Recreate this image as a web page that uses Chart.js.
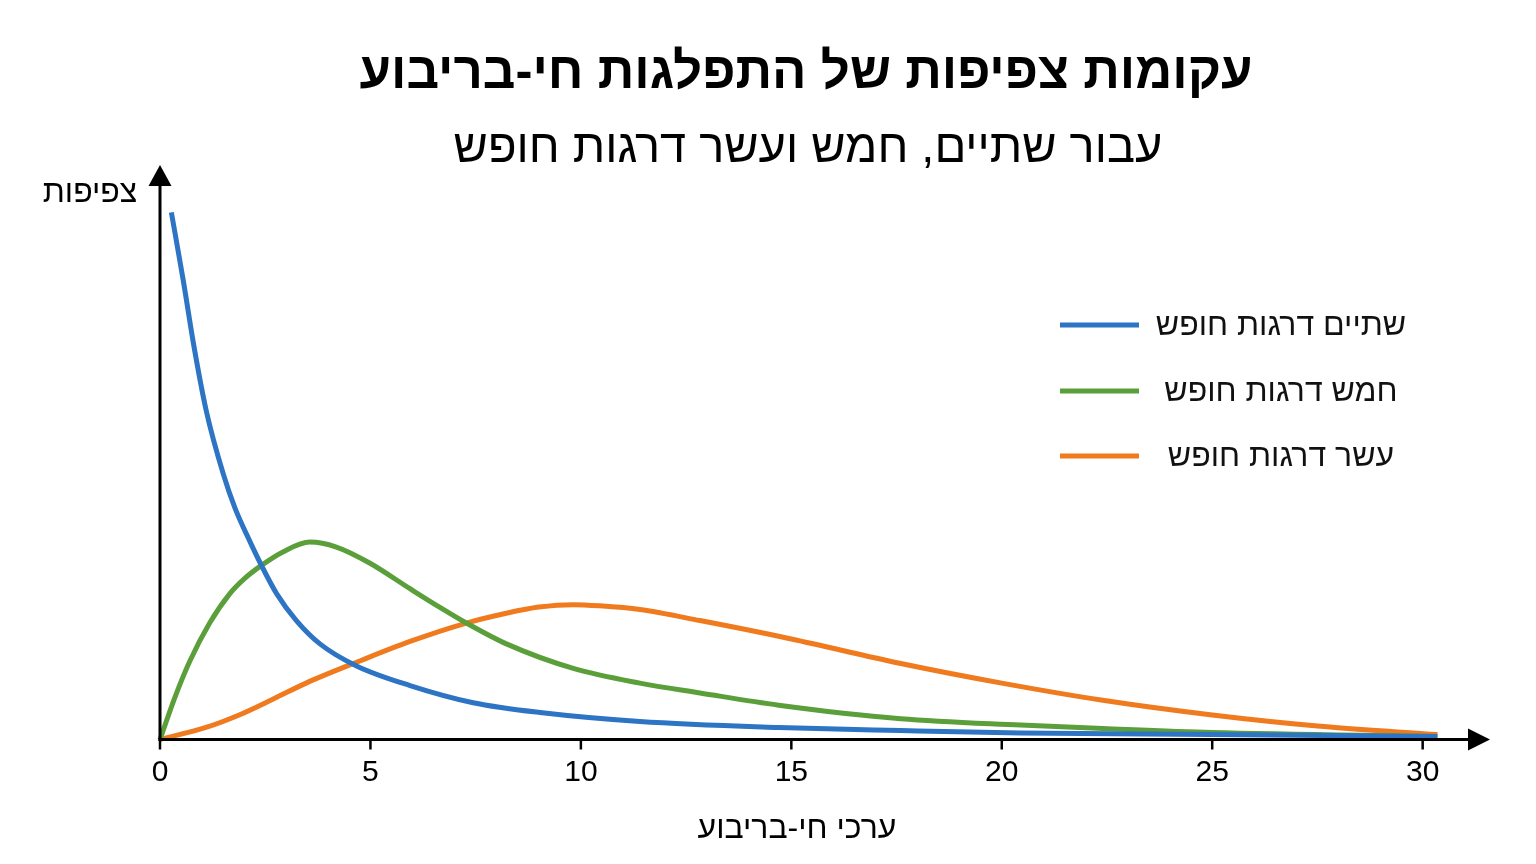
<!DOCTYPE html>
<html lang="he">
<head>
<meta charset="utf-8">
<script src="https://cdn.jsdelivr.net/npm/chart.js@4/dist/chart.umd.min.js"></script>
<style>
html,body{margin:0;padding:0;background:#fff;width:1536px;height:864px;overflow:hidden}
#wrap{position:relative;width:1536px;height:864px}
canvas{display:block}
</style>
</head>
<body>
<div id="wrap"><canvas id="c" width="1536" height="864"></canvas></div>
<script>
// ---- Text ----
const titleText = 'עקומות צפיפות של התפלגות חי-בריבוע';
const subtitleText = 'עבור שתיים, חמש ועשר דרגות חופש';
const xAxisTitle = 'ערכי חי-בריבוע';
const yAxisTitle = 'צפיפות';
const seriesNames = ['שתיים דרגות חופש', 'חמש דרגות חופש', 'עשר דרגות חופש'];
const xTicks = [0, 5, 10, 15, 20, 25, 30];

// ---- Series ----
const df2X = [0.27, 0.55, 0.80, 1.10, 1.50, 1.78, 2.13, 2.41, 2.77, 3.24, 3.80, 4.67, 5.94, 7.44, 9.03, 11.4, 14.7, 17.6, 20.45, 25, 30.35];
const df2Y = [0.430, 0.375, 0.322, 0.268, 0.217, 0.189, 0.162, 0.142, 0.119, 0.097, 0.078, 0.060, 0.044, 0.030, 0.022, 0.0147, 0.0098, 0.0073, 0.0053, 0.0041, 0.0025];

const df5X = [0, 0.35, 0.71, 1.18, 1.66, 2.0, 2.41, 2.92, 3.56, 4.19, 4.98, 5.94, 6.64, 7.28, 8.23, 9.82, 11.4, 12.83, 14.7, 17.6, 20.45, 22.4, 25, 30.35];
const df5Y = [0, 0.034, 0.064, 0.095, 0.119, 0.131, 0.142, 0.153, 0.161, 0.157, 0.144, 0.123, 0.108, 0.095, 0.078, 0.058, 0.046, 0.038, 0.028, 0.017, 0.0118, 0.009, 0.0057, 0.0025];

const df10X = [0, 1.09, 1.88, 2.69, 3.47, 4.67, 5.94, 7.28, 8.23, 9.0, 9.82, 10.45, 11.4, 12.83, 15.0, 17.6, 20.0, 22.4, 25, 27.5, 30.35];
const df10Y = [0, 0.0098, 0.020, 0.033, 0.046, 0.063, 0.080, 0.095, 0.103, 0.108, 0.110, 0.109, 0.106, 0.097, 0.082, 0.062, 0.046, 0.032, 0.020, 0.011, 0.004];

const seriesColors = ['#2d74c4', '#5b9f3b', '#f07a1e'];

const FONT = "'Liberation Sans', 'DejaVu Sans', Arial, sans-serif";

function pts(xs, ys){ return xs.map((x,i)=>({x:x, y:ys[i]})); }

const decor = {
  id: 'decor',
  afterDraw(chart){
    const ctx = chart.ctx;
    const xs = chart.scales.x, ys = chart.scales.y;
    const x0 = xs.getPixelForValue(0);
    const y0 = ys.getPixelForValue(0);
    const xEnd = xs.right, yTop = ys.top;
    ctx.save();
    ctx.strokeStyle = '#000'; ctx.fillStyle = '#000';
    ctx.lineWidth = 3;
    // x axis
    ctx.beginPath(); ctx.moveTo(x0 - 1.5, y0); ctx.lineTo(xEnd - 18, y0); ctx.stroke();
    ctx.beginPath(); ctx.moveTo(xEnd, y0); ctx.lineTo(xEnd - 22, y0 - 11); ctx.lineTo(xEnd - 22, y0 + 11); ctx.closePath(); ctx.fill();
    // y axis
    ctx.beginPath(); ctx.moveTo(x0, y0 + 1.5); ctx.lineTo(x0, yTop + 18); ctx.stroke();
    ctx.beginPath(); ctx.moveTo(x0, yTop); ctx.lineTo(x0 - 11.5, yTop + 21); ctx.lineTo(x0 + 11.5, yTop + 21); ctx.closePath(); ctx.fill();
    // ticks
    ctx.lineWidth = 2.5;
    ctx.font = '30px ' + FONT;
    ctx.textAlign = 'center'; ctx.textBaseline = 'middle';
    xTicks.forEach(v => {
      const px = xs.getPixelForValue(v);
      ctx.beginPath(); ctx.moveTo(px, y0); ctx.lineTo(px, y0 + 10); ctx.stroke();
      ctx.fillText(String(v), px, y0 + 33);
    });
    // titles
    ctx.direction = 'rtl';
    ctx.textAlign = 'center'; ctx.textBaseline = 'alphabetic';
    ctx.font = 'bold 51px ' + FONT;
    ctx.fillText(titleText, 806, 88);
    ctx.font = '47px ' + FONT;
    ctx.fillText(subtitleText, 808, 162);
    ctx.font = '32px ' + FONT;
    ctx.fillText(xAxisTitle, 797, 838);
    ctx.fillText(yAxisTitle, 90, 202);
    // legend
    const legY = [325, 391, 456];
    chart.data.datasets.forEach((ds, i) => {
      ctx.strokeStyle = ds.borderColor; ctx.lineWidth = 5; ctx.lineCap = 'butt';
      ctx.beginPath(); ctx.moveTo(1060, legY[i]); ctx.lineTo(1139, legY[i]); ctx.stroke();
      ctx.fillStyle = '#111';
      ctx.font = '32px ' + FONT;
      ctx.textBaseline = 'middle';
      ctx.fillText(ds.label, 1281, legY[i] + 1);
    });
    ctx.restore();
  }
};

const common = {borderWidth: 5, cubicInterpolationMode: 'monotone', fill: false, pointRadius: 0, borderJoinStyle: 'round', borderCapStyle: 'butt'};

new Chart(document.getElementById('c'), {
  type: 'line',
  data: {
    datasets: [
      Object.assign({label: seriesNames[0], data: pts(df2X, df2Y), borderColor: seriesColors[0]}, common),
      Object.assign({label: seriesNames[1], data: pts(df5X, df5Y), borderColor: seriesColors[1]}, common),
      Object.assign({label: seriesNames[2], data: pts(df10X, df10Y), borderColor: seriesColors[2]}, common)
    ]
  },
  options: {
    responsive: false,
    animation: false,
    devicePixelRatio: 1,
    layout: {padding: {left: 160, right: 46, top: 165, bottom: 124.5}},
    scales: {
      x: {type: 'linear', min: 0, max: 31.6, display: false},
      y: {type: 'linear', min: 0, max: 0.4686, display: false}
    },
    plugins: {legend: {display: false}, tooltip: {enabled: false}, title: {display: false}},
    clip: false
  },
  plugins: [decor]
});
</script>
</body>
</html>
